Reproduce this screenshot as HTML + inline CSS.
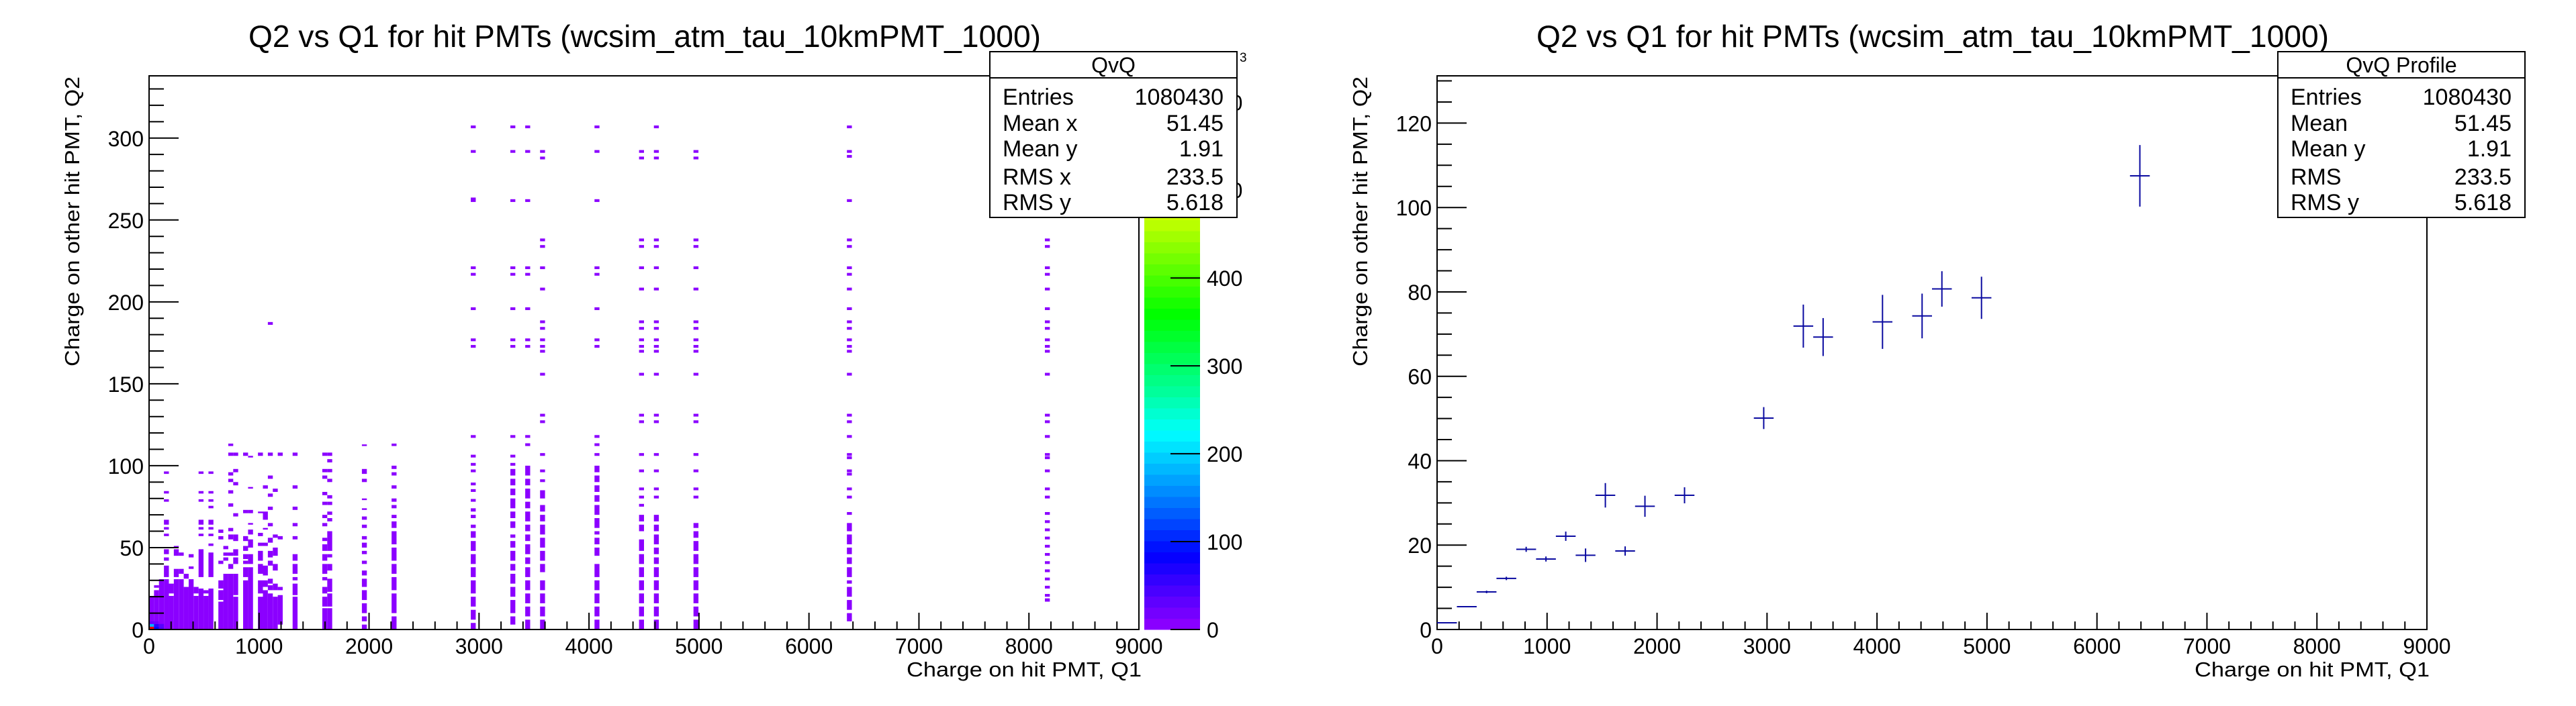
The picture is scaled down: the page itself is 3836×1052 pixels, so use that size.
<!DOCTYPE html>
<html><head><meta charset="utf-8">
<style>
html,body{margin:0;padding:0;background:#fff;}
svg{display:block;font-family:"Liberation Sans",sans-serif;}
</style></head>
<body>
<svg id="c" width="3836" height="1052" viewBox="0 0 3836 1052" xmlns="http://www.w3.org/2000/svg"></svg>
<script>
// ---------- 2D histogram data (Q1 bin index of width 45, Q2 segments) ----------
const h2Cols = [0,1,2,3,4,5,6,7,8,9,10,11,12,14,15,16,17,19,20,22,23,24,25,26,29,35,36,43,49];
const h2Segs = [
 [[0,20.5]],
 [[0,24],[25.5,27]],
 [[0,30.7]],
 [[0,30.7],[32,39],[42,44],[46,49],[57,58.5],[61,62.5],[64,67],[78,79.5],[83,84.5],[95,96.5]],
 [[0,20.5],[22,28]],
 [[0,30.7],[32,37],[45,49],[50,51]],
 [[0,30.7],[34,37],[45,47]],
 [[0,26],[31,34]],
 [[0,30.7],[37,38.5],[44,46]],
 [[0,20.5],[22,26]],
 [[0,25],[32,49],[57,58.5],[61,62.5],[64,67],[78,79.5],[83,84.5],[95,96.5]],
 [[0,20.5],[22,24]],
 [[0,25],[32,47],[51,52.5],[57,58.5],[61,62.5],[64,67],[74,75.5],[78,79.5],[83,84.5],[95,96.5]],
 [[0,17],[18,24],[25,30],[40,42],[55,57],[59,61]],
 [[0,34],[42,44],[45,47],[49,51]],
 [[0,34],[37,40],[45,47],[55,58],[60,62],[75,77],[83,85],[90,92],[94,96],[106,108],[112,113.5]],
 [[0,20],[21,34],[40,44],[45,49],[54,58],[69,71],[88,90],[96,98],[106,108]],
 [[0,30],[32,38],[40,42],[43,46],[48,51],[54,57],[71,73],[106,108]],
 [[0,38],[40,46],[50,55],[58,61],[64,65],[71,73],[86,87],[105,106]],
 [[0,20],[22,30],[34,40],[42,48],[51,53],[57,59],[71,72],[106,108]],
 [[0,24],[26,30],[33,39],[51,53],[61,62],[67,72],[86,88]],
 [[0,22],[24,27],[28,31],[39,42],[44,48],[53,56],[63,65],[73,75],[81,83],[92,94],[106,108],[186,187.7]],
 [[0,20],[24,28],[36,40],[45,50],[56,58],[84,86]],
 [[3,21],[24,26],[55,57],[106,108]],
 [[0,20],[21,28],[30,32],[34,40],[42,46],[55,57],[63,65],[73,75],[86,88],[106,108]],
 [[0,13],[14,20],[22,26],[30,32],[34,40],[42,46],[48,52],[54,56],[63,65],[68,70],[76,78],[82,84],[92,94],[96,98],[106,108]],
 [[0,13],[14,22],[23,31],[36,40],[44,46],[48,60],[66,68],[70,72],[76,78],[80,82],[90,92],[96,98],[102,104],[106,108]],
 [[0,3],[5,8],[10,16],[18,24],[26,31],[33,36],[40,42],[46,48],[50,53],[55,57],[62,64],[67,69],[73,74],[79,80],[90,92],[95,98],[112,113]],
 [[0,8],[10,22],[24,32],[34,40],[42,50],[52,60],[62,66],[68,70],[74,76],[78,80],[86,88],[94,96],[98,100],[112,113.5]]
];
// high-Q1 columns: dashed segments plus isolated dots
const hiCols = [65,73,76,79,90,99,102,110,141,181];
const hiSegs = [
 [[0,4],[6,12],[14,20],[22,30],[32,38],[40,46],[48,54],[56,60],[62,64],[68,70],[72,74]],
 [[3,8],[10,18],[20,26],[28,34],[36,40],[42,48],[50,54],[56,58],[62,66],[68,72],[74,80],[82,86],[88,92],[94,98]],
 [[0,6],[8,14],[16,22],[24,30],[32,38],[40,44],[46,52],[54,58],[60,64],[66,72],[74,78],[80,86],[88,92],[94,100]],
 [[0,6],[8,14],[16,22],[24,30],[35,40],[42,48],[50,56],[58,64],[66,70],[72,76],[80,85]],
 [[0,6],[8,14],[16,22],[24,30],[32,40],[45,50],[52,56],[58,60],[62,68],[70,76],[78,82],[84,88],[90,94],[96,100]],
 [[0,6],[8,14],[16,22],[24,30],[32,38],[40,46],[48,55],[60,64],[66,70]],
 [[0,6],[8,14],[16,22],[24,30],[32,38],[40,44],[46,50],[52,58],[60,64],[66,70]],
 [[0,6],[8,14],[16,22],[24,30],[32,38],[40,46],[48,54],[56,60],[62,65]],
 [[5,10],[12,18],[20,26],[28,30],[32,38],[40,44],[46,50],[52,58],[60,65]],
 [[17,19]]
];
const hiDots = [
 [306,291,261,262,220,216,195,176,172,117,105,100,96,88,84,78],
 [306,291,261,220,216,195,176,172,117,105,100],
 [306,291,261,220,216,195,176,172,117,112],
 [291,287,237,233,220,207,187,183,176,172,169,155,130,126,106,96,90],
 [306,291,261,220,216,195,176,172,117,112,106],
 [291,287,237,233,220,207,187,183,176,172,169,155,130,126,106,96,85,80,75],
 [306,291,287,237,233,220,207,187,183,176,172,169,155,130,126,106,96,85,80],
 [291,287,237,233,220,207,187,183,176,172,169,155,130,126,106,96,85,80],
 [306,291,288,261,237,233,220,216,207,195,187,183,176,172,169,155,130,126,117,106,104,96,94,85,80,70],
 [237,233,220,216,207,195,187,183,176,172,169,155,130,126,117,106,104,96,85,80,70,65,60,55,50,45,40,35,30,25,20]
];
// hot cells near origin: [col, row, count]
const hotCells = [[0,0,640],[0,1,180],[1,0,90],[1,1,60],[2,0,40],[2,1,35],[0,2,25],[1,2,20]];

// ---------- profile data ----------
const profX = [90,270,450,630,810,990,1170,1350,1530,1710,1890,2250,2970,3330,3510,4050,4410,4590,4950,6390];
const profY = [1.6,5.4,8.9,12.1,19.0,16.7,22.1,17.6,31.8,18.6,29.2,31.8,50.1,71.9,69.3,72.9,74.3,80.7,78.6,107.5];
const profErr = [0.1,0.15,0.3,0.4,0.6,0.6,1.1,1.6,2.9,1.1,2.5,1.9,2.6,5.1,4.5,6.4,5.3,4.2,5.0,7.3];
const profBinHalf = 90;

// ---------- axes ----------
const xTicks = [0,1000,2000,3000,4000,5000,6000,7000,8000,9000];
const yTicksL = [0,50,100,150,200,250,300];
const yTicksR = [0,20,40,60,80,100,120];
const zTicks = [0,100,200,300,400,500,600];
const statsLabelsL = ["Entries","Mean x","Mean y","RMS x","RMS y"];
const statsLabelsR = ["Entries","Mean","Mean y","RMS","RMS y"];
const statsVals = ["1080430","51.45","1.91","233.5","5.618"];

const svg = document.getElementById('c');
const NS = 'http://www.w3.org/2000/svg';
function mk(tag, attrs, parent){
  const e = document.createElementNS(NS, tag);
  for (const k in attrs) e.setAttribute(k, attrs[k]);
  (parent||svg).appendChild(e);
  return e;
}
const FL=222, FR=1696, FT=113, FB=938;
const RL=2140, RR=3614;
const XMAX=9000, YLMAX=338, YRMAX=131.2, ZMAX=630;
const xL = q => FL + q*(FR-FL)/XMAX;
const xR = q => RL + q*(RR-RL)/XMAX;
const yL = v => FB - v*(FB-FT)/YLMAX;
const yR = v => FB - v*(FB-FT)/YRMAX;
const zY = v => FB - v*(FB-FT)/ZMAX;

const palStops = [[0,[147,0,255]],[40,[80,0,255]],[85,[0,0,255]],[150,[0,128,255]],[224,[0,255,255]],[268,[0,255,160]],[358,[0,255,0]],[468,[200,255,0]],[520,[255,255,0]],[580,[255,128,0]],[630,[255,0,0]]];
function pal(v){
  for (let i=1;i<palStops.length;i++){
    if (v<=palStops[i][0]){
      const a=palStops[i-1], b=palStops[i], t=(v-a[0])/(b[0]-a[0]);
      const c=a[1].map((x,j)=>Math.round(x+(b[1][j]-x)*t));
      return 'rgb('+c.join(',')+')';
    }
  }
  return 'rgb(255,0,0)';
}
const BW=45, BH=338/200;
const purple = pal(5);

// titles
const t1 = mk('text',{x:960,y:70,'text-anchor':'middle','font-size':46,textLength:1180,lengthAdjust:'spacingAndGlyphs'});
t1.textContent='Q2 vs Q1 for hit PMTs (wcsim_atm_tau_10kmPMT_1000)';


const t2 = mk('text',{x:2878,y:70,'text-anchor':'middle','font-size':46,textLength:1180,lengthAdjust:'spacingAndGlyphs'});
t2.textContent='Q2 vs Q1 for hit PMTs (wcsim_atm_tau_10kmPMT_1000)';



// ---------- left histogram cells ----------
const gH = mk('g',{});


function cell(col, y0, y1, color){
  const r = mk('rect',{x:xL(col*BW), y:yL(y1), width:xL((col+1)*BW)-xL(col*BW), height:yL(y0)-yL(y1), fill:color}, gH);
  
  
}
h2Cols.forEach((c,i)=>h2Segs[i].forEach(s=>cell(c,s[0],s[1],purple)));
hiCols.forEach((c,i)=>{
  hiSegs[i].forEach(s=>cell(c,s[0],s[1],purple));
  hiDots[i].forEach(d=>cell(c,d,d+BH,purple));
});
hotCells.forEach(h=>cell(h[0],h[1]*BH,(h[1]+1)*BH,pal(h[2])));

// frames
function frame(l,r,name){
  const f = mk('rect',{x:l,y:FT,width:r-l,height:FB-FT,fill:'none',stroke:'#000','stroke-width':2});
  
  
}
frame(FL,FR,'left-plot-frame');
frame(RL,RR,'right-plot-frame');

// axes
function xAxis(xf, side){
  for (let q=0;q<=XMAX;q+=200){
    const major = q%1000===0;
    const l = mk('line',{x1:xf(q),x2:xf(q),y1:FB,y2:FB-(major?25:12),stroke:'#000','stroke-width':2});
    
    
  }
  xTicks.forEach(v=>{
    const t = mk('text',{x:xf(v),y:974,'text-anchor':'middle','font-size':32});
    t.textContent=v;
    
    
  });
  const at = mk('text',{x:xf(XMAX)+4,y:1008,'text-anchor':'end','font-size':31,textLength:350,lengthAdjust:'spacingAndGlyphs'});
  at.textContent='Charge on hit PMT, Q1';
  
  
}
xAxis(xL,'left'); xAxis(xR,'right');

function yAxis(L, yf, max, minorStep, majorStep, ticks, side){
  for (let v=0; v<=max; v+=minorStep){
    const major = Math.abs(v/majorStep - Math.round(v/majorStep))<1e-6;
    const l = mk('line',{x1:L,x2:L+(major?44:22),y1:yf(v),y2:yf(v),stroke:'#000','stroke-width':2});
    
    
  }
  ticks.forEach(v=>{
    const t = mk('text',{x:L-8,y:yf(v)+12,'text-anchor':'end','font-size':32});
    t.textContent=v;
    
    
  });
  const at = mk('text',{x:0,y:0,'text-anchor':'end','font-size':31,textLength:432,lengthAdjust:'spacingAndGlyphs',transform:'translate('+(L-104)+',114) rotate(-90)'});
  at.textContent='Charge on other hit PMT, Q2';
  
  
}
yAxis(FL, yL, YLMAX, 10, 50, yTicksL, 'left');
yAxis(RL, yR, YRMAX, 5, 20, yTicksR, 'right');

// ---------- palette ----------
const gP = mk('g',{});


for (let v=0; v<ZMAX; v+=12.6){
  const r = mk('rect',{x:1704,y:zY(v+12.6),width:83,height:zY(v)-zY(v+12.6)+0.5,fill:pal(v+6)},gP);
  
  
}
zTicks.forEach(v=>{
  const l = mk('line',{x1:1743,x2:1787,y1:zY(v),y2:zY(v),stroke:'#000','stroke-width':2});
  
  
  const t = mk('text',{x:1797,y:zY(v)+12,'font-size':32});
  t.textContent=v;
  
  
});
const ex = mk('text',{x:1846,y:92,'font-size':19});
ex.textContent='3';



// ---------- profile ----------
const gR = mk('g',{stroke:'#0a0aa0','stroke-width':2});


profX.forEach((x,i)=>{
  const h = mk('line',{x1:xR(x-profBinHalf),x2:xR(x+profBinHalf),y1:yR(profY[i]),y2:yR(profY[i])},gR);
  
  
  const v = mk('line',{x1:xR(x),x2:xR(x),y1:yR(profY[i]+profErr[i]),y2:yR(profY[i]-profErr[i])},gR);
  
  
});

// ---------- stats boxes ----------
function stats(x0, title, labels, name){
  const g = mk('g',{});
  
  
  mk('rect',{x:x0,y:77,width:368,height:247,fill:'#fff',stroke:'#000','stroke-width':2},g);
  mk('line',{x1:x0,x2:x0+368,y1:116,y2:116,stroke:'#000','stroke-width':2},g);
  const t = mk('text',{x:x0+184,y:108,'text-anchor':'middle','font-size':32},g);
  t.textContent=title;
  
  
  const rows=[156,195,233,275,313];
  labels.forEach((lb,i)=>{
    const a = mk('text',{x:x0+19,y:rows[i],'font-size':34},g);
    a.textContent=lb;
    
    
    const b = mk('text',{x:x0+348,y:rows[i],'text-anchor':'end','font-size':34},g);
    b.textContent=statsVals[i];
    
    
  });
}
stats(1474,'QvQ',statsLabelsL,'left-stats-box');
stats(3392,'QvQ Profile',statsLabelsR,'right-stats-box');
</script>
</body></html>
